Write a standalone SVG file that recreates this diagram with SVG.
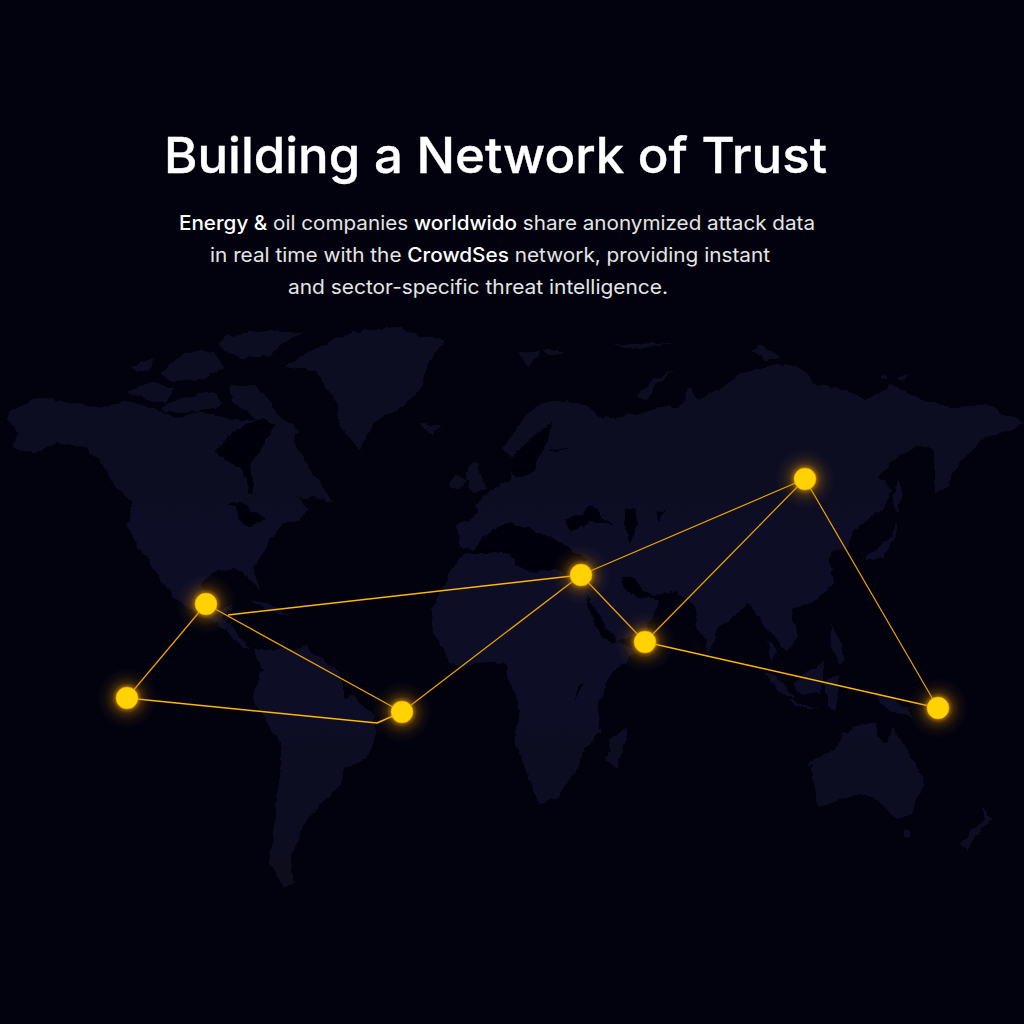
<svg xmlns="http://www.w3.org/2000/svg" width="1024" height="1024" viewBox="0 0 1024 1024">
<defs>
<radialGradient id="glow"><stop offset="0.36" stop-color="#e89a00" stop-opacity="0.62"/><stop offset="0.52" stop-color="#c98000" stop-opacity="0.26"/><stop offset="0.75" stop-color="#b07000" stop-opacity="0.08"/><stop offset="1" stop-color="#b07000" stop-opacity="0"/></radialGradient>
<linearGradient id="landFill" gradientUnits="userSpaceOnUse" x1="0" y1="330" x2="0" y2="890"><stop offset="0" stop-color="#0a0b20"/><stop offset="0.35" stop-color="#0c0d25"/><stop offset="0.7" stop-color="#0c0d25"/><stop offset="1" stop-color="#090a1e"/></linearGradient>
<filter id="soft" x="-5%" y="-5%" width="110%" height="110%"><feTurbulence type="fractalNoise" baseFrequency="0.09" numOctaves="3" seed="4" result="n"/><feDisplacementMap in="SourceGraphic" in2="n" scale="7" xChannelSelector="R" yChannelSelector="G"/><feGaussianBlur stdDeviation="0.6"/></filter>
</defs>
<style>
.land{fill:url(#landFill)}
.sea{fill:#02020f}
.title{font-family:Inter,"Liberation Sans",sans-serif;font-size:50px;font-weight:500;fill:#fff;stroke:#fff;stroke-width:0.4}
.body{font-family:Inter,"Liberation Sans",sans-serif;font-size:20px;font-weight:400;fill:#e6e6e6}
.b{font-weight:500;fill:#fff}
.link{fill:none;stroke:#f0a400;stroke-width:1.2;stroke-linejoin:round}
.link2{fill:none;stroke:#ffb800;stroke-width:1.5;stroke-linejoin:round}
.halo{fill:url(#glow)}
.dot{fill:#ffd200;stroke:#e0a000;stroke-width:0.6}
</style>
<rect width="1024" height="1024" fill="#02020f"/>
<g id="map" filter="url(#soft)">
<g class="land">
<path d="M10,410L37,397L70,403L97,408L125,402L157,410L175,417L200,412L225,417L245,420L262,418L277,417L293,425L296,445L305,462L318,478L333,502L318,498L300,497L306,510L300,520L283,523L270,540L263,553L253,567L260,587L255,586L247,577L233,568L213,573L202,583L204,600L215,610L232,607L222,618L235,628L250,650L240,645L225,630L205,618L187,607L173,597L160,577L143,553L128,528L130,507L133,502L113,483L100,460L80,447L57,443L33,453L13,447L20,433L7,420Z"/>
<path d="M283,367L310,352L337,338L353,332L400,328L422,337L447,340L427,363L423,387L403,407L373,423L360,450L347,437L337,420L338,405L328,392L317,370L300,369Z"/>
<path d="M227,335L267,330L303,333L283,343L270,356L240,358L218,345Z"/>
<path d="M130,367L155,358L150,368L135,372Z"/>
<path d="M160,375L185,352L215,352L225,368L205,378L175,382Z"/>
<path d="M127,392L150,382L175,388L165,405L135,395Z"/>
<path d="M160,408L190,395L215,392L222,405L195,412L165,412Z"/>
<path d="M230,385L255,385L270,400L277,417L300,430L293,438L270,428L245,410L232,402Z"/>
<path d="M420,423L443,425L432,436Z"/>
<path d="M470,462L477,463L487,490L473,493L465,480Z"/>
<ellipse cx="457" cy="482" rx="7" ry="7"/>
<path d="M512,433L528,412L542,403L565,400L585,405L602,417L612,418L622,417L645,412L669,405L679,408L689,387L699,400L719,390L742,373L785,363L809,373L812,383L845,390L865,400L892,385L922,400L952,407L985,405L1012,417L1024,423L1009,430L985,437L979,443L962,460L945,488L935,496L935,450L920,447L899,455L879,477L892,490L885,505L872,517L852,533L849,547L832,550L829,560L833,570L833,583L813,603L790,610L798,637L787,650L767,630L760,620L748,602L717,630L710,652L700,633L693,603L675,592L660,597L657,607L647,630L623,640L610,643L593,610L587,597L581,578L570,570L540,570L510,553L467,553L458,560L432,607L432,630L450,663L463,667L490,660L507,665L508,680L520,710L515,740L527,773L538,802L555,800L577,770L583,753L600,732L597,707L607,680L630,657L640,648L620,643L605,625L590,600L585,590L560,570L548,558L530,555L515,545L495,540L483,537L477,550L460,547L457,525L470,520L478,510L475,507L490,490L510,480L517,463L503,447L510,438Z"/>
<path d="M253,650L277,650L307,647L337,670L343,687L373,713L376,733L367,757L345,770L337,790L320,807L305,823L300,833L290,860L295,883L283,887L270,863L275,813L282,760L282,743L263,717L252,697L263,670Z"/>
<path d="M810,762L833,750L843,733L862,723L877,723L877,737L888,743L893,727L913,760L925,780L913,813L897,820L877,800L860,793L820,807L812,777Z"/>
<path d="M901,828L912,830L907,838Z"/>
<path d="M979,805L993,820L982,827L967,850L960,845L975,828L985,818Z"/>
<path d="M877,692L893,697L913,715L893,713L880,703Z"/>
<path d="M627,728L618,770L607,760L610,740Z"/>
<path d="M793,683L810,670L825,662L820,693L800,695Z"/>
<path d="M766,670L775,675L795,697L785,695L768,682Z"/>
<path d="M790,698L812,706L818,710L795,704Z"/>
<path d="M768,640L778,650L772,662Z"/>
<path d="M830,622L840,640L845,660L838,665L832,645Z"/>
<path d="M825,680L838,675L836,712L828,705Z"/>
<path d="M865,557L880,547L892,537L895,520L898,530L885,555L868,562Z"/>
<path d="M897,478L902,490L898,515L893,500Z"/>
<path d="M637,397L652,380L679,367L655,385L645,400Z"/>
<path d="M519,352L540,350L530,367L522,360Z"/>
<path d="M542,350L565,350L550,357Z"/>
<path d="M610,345L675,342L640,350Z"/>
<path d="M752,350L762,345L782,358L765,360Z"/>
<path d="M880,377L885,372L888,380ZM895,378L910,375L905,381Z"/>
<path d="M150,443L170,432L160,440L135,465Z"/>
<path d="M155,565L163,570L175,595L165,585Z"/>
<path d="M250,600L270,605L290,615L270,612Z"/>
</g>
<g class="sea">
<path d="M215,452L233,432L245,425L262,418L277,425L265,438L262,450L250,465L255,485L250,495L243,470L225,460Z"/>
<path d="M226,505L240,500L250,510L265,518L250,527L237,520L236,505Z"/>
<path d="M512,455L530,440L552,423L545,445L535,470L515,480Z"/>
<path d="M548,450L570,450L555,452Z"/>
<path d="M483,537L495,530L512,522L530,528L545,535L565,545L587,560L580,570L555,570L530,573L515,565L510,553L467,553L478,545Z"/>
<path d="M565,520L580,515L590,505L600,512L612,525L590,522L570,530Z"/>
<path d="M625,510L635,508L638,525L630,545L625,530Z"/>
<path d="M655,512L665,510L660,522Z"/>
<path d="M587,597L600,620L612,642L605,640L592,620Z"/>
<path d="M622,577L632,577L642,592L660,597L675,590L660,600L640,598L625,590Z"/>
<path d="M346,700L352,692L342,684Z"/>
<path d="M577,690L584,683L575,700Z"/>
</g>
</g>
<g id="connectors">
<path class="link" d="M206,604L127,698"/>
<path class="link" d="M206,604L402,712"/>
<path class="link2" d="M581,575L228,615"/>
<path class="link2" d="M127,698L377,723L402,712"/>
<path class="link" d="M402,712L581,575"/>
<path class="link" d="M581,575L645,642"/>
<path class="link" d="M581,575L805,479"/>
<path class="link" d="M645,642L805,479"/>
<path class="link2" d="M645,642L938,708"/>
<path class="link" d="M805,479L938,708"/>
</g>
<g id="node-1"><circle class="halo" cx="206" cy="604" r="30"/><circle class="dot" cx="206" cy="604" r="11"/></g>
<g id="node-2"><circle class="halo" cx="127" cy="698" r="30"/><circle class="dot" cx="127" cy="698" r="11"/></g>
<g id="node-3"><circle class="halo" cx="402" cy="712" r="30"/><circle class="dot" cx="402" cy="712" r="11"/></g>
<g id="node-4"><circle class="halo" cx="581" cy="575" r="30"/><circle class="dot" cx="581" cy="575" r="11"/></g>
<g id="node-5"><circle class="halo" cx="645" cy="642" r="30"/><circle class="dot" cx="645" cy="642" r="11"/></g>
<g id="node-6"><circle class="halo" cx="805" cy="479" r="30"/><circle class="dot" cx="805" cy="479" r="11"/></g>
<g id="node-7"><circle class="halo" cx="938" cy="708" r="30"/><circle class="dot" cx="938" cy="708" r="11"/></g>
<g id="text">
<text class="title" x="164" y="173" textLength="663" lengthAdjust="spacingAndGlyphs">Building a Network of Trust</text>
<text class="body" x="179" y="230" textLength="636" lengthAdjust="spacingAndGlyphs"><tspan class="b">Energy &amp;</tspan> oil companies <tspan class="b">worldwido</tspan> share anonymized attack data</text>
<text class="body" x="210" y="262" textLength="560" lengthAdjust="spacingAndGlyphs">in real time with the <tspan class="b">CrowdSes</tspan> network, providing instant</text>
<text class="body" x="288" y="294" textLength="380" lengthAdjust="spacingAndGlyphs">and sector-specific threat intelligence.</text>
</g>
</svg>
